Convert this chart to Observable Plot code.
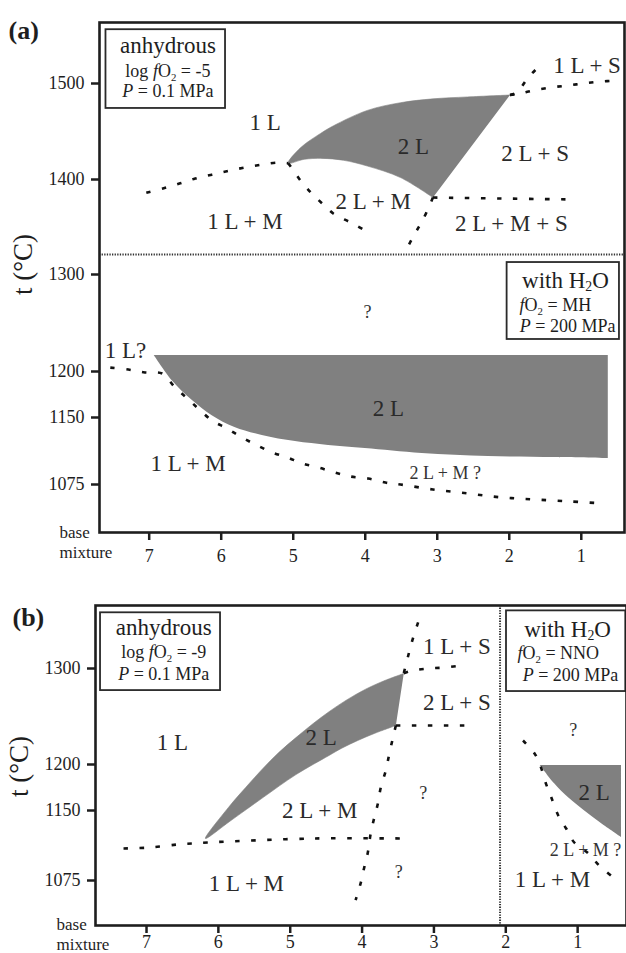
<!DOCTYPE html>
<html><head><meta charset="utf-8">
<script src="https://cdn.jsdelivr.net/npm/d3@7"></script>
<script src="https://cdn.jsdelivr.net/npm/@observablehq/plot@0.6"></script>
<style>
html,body{margin:0;padding:0;background:#fff;}
#chart{width:626px;}
#chart svg{display:block;}
</style></head><body><div id="chart"></div>
<script>
// ================= DATA =================
const xTicks = [7, 6, 5, 4, 3, 2, 1];
const aYTicks = [1075, 1150, 1200, 1300, 1400, 1500];
const bYTicks = [1075, 1150, 1200, 1300];
const aXDomain = [7.69, 0.40];
const bXDomain = [7.71, 0.32];
// temperature break points of the (non-uniform) temperature axis
const aYBreaks = [1021, 1075, 1150, 1200, 1300, 1400, 1500, 1563.5];
const bYBreaks = [1026.8, 1075, 1150, 1200, 1300, 1365.6];
const aSeparatorT = [1321];
const bSeparatorX = [2.08];
const axisTitle = ["t (°C)"];
const aAxisTitleT = [1310.5];
const bAxisTitleT = [1197.8];
const baseLabel = ["base\nmixture"];

// ---- panel (a), anhydrous ----
const aAnhLiquidus = [[7.04,1386],[6.81,1390.5],[6.57,1396],[6.36,1401],[6.13,1405],[5.90,1409],[5.67,1412.5],[5.43,1415.6],[5.21,1417.7],[5.07,1417]];
const aAnhTipDown = [[5.07,1417],[5.04,1414],[4.90,1399],[4.74,1385],[4.60,1375],[4.44,1364],[4.21,1355],[4.04,1348]];
const aAnhEutecticDown = [[3.06,1381],[3.19,1359],[3.31,1343],[3.44,1325]];
const aAnhSolidusFlat = [[3.06,1381],[2.10,1380],[1.15,1379]];
const aAnhVertexUp = [[1.99,1488],[1.89,1491],[1.74,1506],[1.57,1519]];
const aAnhVertexRight = [[1.99,1488],[1.85,1489.6],[1.67,1492.7],[1.43,1495.8],[1.19,1497.9],[0.97,1500],[0.74,1502],[0.50,1503]];
const aAnh2LUpper = [[1.99,1488],[2.58,1486],[3.06,1484],[3.51,1480],[3.97,1472],[4.44,1456],[4.62,1448],[4.90,1433],[5.07,1417]];
const aAnh2LLower = [[5.07,1417],[4.85,1421],[4.60,1422],[4.30,1420],[3.97,1414],[3.51,1402],[3.06,1381]];
// ---- panel (a), with H2O ----
const aH2OLiquidus = [[7.54,1204],[7.29,1202],[7.06,1199],[6.82,1197.8],[6.64,1182.6],[6.47,1170.7],[6.32,1159.8],[6.13,1146.7],[5.92,1137.7],[5.71,1127.6],[5.50,1118.7],[5.29,1110.8],[5.08,1105.2],[4.875,1098.5],[4.65,1094],[4.42,1088.4],[4.21,1084],[3.96,1081.7],[3.72,1077.2],[3.51,1075],[3.06,1069.4],[2.58,1065],[2.125,1060.6],[1.67,1058.3],[1.19,1056.1],[0.74,1053.9]];
const aH2O2LBottom = [[6.93,1216.5],[6.68,1190],[6.40,1168.5],[6.125,1152],[5.81,1138.8],[5.43,1129.9],[4.97,1123],[4.51,1118.7],[4.0,1115.3],[3.21,1109.7],[2.29,1106.4],[1.36,1105.2],[0.625,1104.1]];
const aH2O2LTop = 1216.5;

const aLabels = [
  {text: "1 L", x: 5.39, t: 1459.4}, {text: "2 L", x: 3.33, t: 1434.4},
  {text: "2 L + S", x: 1.64, t: 1427}, {text: "1 L + S", x: 0.92, t: 1518.75},
  {text: "1 L + M", x: 5.67, t: 1355.8}, {text: "2 L + M", x: 3.89, t: 1376.8},
  {text: "2 L + M + S", x: 1.97, t: 1353.7}, {text: "1 L?", x: 7.33, t: 1221.6},
  {text: "2 L", x: 3.68, t: 1159.8}, {text: "1 L + M", x: 6.46, t: 1098.5}
];
const aMinorLabels = [
  {text: "?", x: 3.97, t: 1260.8}, {text: "2 L + M ?", x: 2.89, t: 1087.3}
];
const aBoxes = [
  {x1: 7.60, x2: 5.94, t1: 1474, t2: 1556},
  {x1: 2.03, x2: 0.47, t1: 1233, t2: 1312.6}
];
const aBoxTitles = [
  {text: "anhydrous", x: 6.74, t: 1539.6},
  {text: "with H_2_O", x: 1.22, t: 1294}
];
const aBoxLines = [
  {text: "log *f*O_2_ = -5", x: 6.74, t: 1512.5},
  {text: "*P* = 0.1 MPa", x: 6.74, t: 1491.7},
  {text: "*f*O_2_ = MH", x: 1.36, t: 1268},
  {text: "*P* = 200 MPa", x: 1.19, t: 1246.4}
];

// ---- panel (b), anhydrous ----
const bLiquidusFlat = [[7.32,1109.3],[6.94,1110.4],[6.57,1113.6],[6.34,1114.7],[6.15,1115.7],[5.86,1116.8],[4.67,1120],[3.36,1120]];
const bSteepUpper = [[3.22,1348],[3.29,1332],[3.35,1315.6],[3.42,1295]];
const bSteepLower = [[3.53,1240.6],[3.57,1228],[3.62,1211.5],[3.67,1193.5],[3.74,1175],[3.78,1157.6],[3.83,1142.5],[3.88,1125.4],[3.92,1105],[3.97,1089],[4.02,1072],[4.09,1054]];
const bVertexRight = [[3.42,1295],[3.29,1298],[3.08,1300],[2.86,1301],[2.62,1303]];
const bLowerVertexRight = [[3.53,1240.6],[2.55,1240.6]];
const b2LUpper = [[3.42,1294.8],[3.70,1287],[3.95,1278.5],[4.22,1267],[4.46,1255],[4.68,1242.7],[4.92,1228],[5.16,1212.5],[5.38,1195.7],[5.62,1175],[5.86,1153.3],[6.18,1120]];
const b2LLower = [[6.18,1120],[5.83,1139],[5.38,1164],[4.92,1189],[4.46,1209.4],[4.29,1216.7],[4.06,1225],[3.83,1232.3],[3.53,1240.6]];
// ---- panel (b), with H2O ----
const bH2OLiquidus = [[1.76,1225],[1.60,1211.5],[1.52,1199],[1.44,1179],[1.37,1165],[1.27,1144.7],[1.16,1130.7],[1.05,1116],[0.85,1104],[0.70,1091],[0.50,1078]];
const bH2O2LBottom = [[1.52,1199],[1.32,1179],[1.13,1164],[0.91,1150],[0.67,1136],[0.39,1121]];
const bH2O2LTop = 1199;

const bLabels = [
  {text: "1 L", x: 6.64, t: 1223}, {text: "2 L", x: 4.57, t: 1228},
  {text: "2 L + M", x: 4.59, t: 1150}, {text: "1 L + M", x: 5.61, t: 1071.8},
  {text: "1 L + S", x: 2.68, t: 1323}, {text: "2 L + S", x: 2.68, t: 1264.6},
  {text: "2 L", x: 0.77, t: 1169.6}, {text: "1 L + M", x: 1.35, t: 1076}
];
const bMinorLabels = [
  {text: "?", x: 3.15, t: 1168.5}, {text: "?", x: 3.49, t: 1083.6},
  {text: "?", x: 1.06, t: 1235.4}, {text: "2 L + M ?", x: 0.89, t: 1107}
];
const bBoxes = [
  {x1: 7.64, x2: 5.97, t1: 1277, t2: 1358},
  {x1: 1.99, x2: 0.33, t1: 1276, t2: 1360}
];
const bBoxTitles = [
  {text: "anhydrous", x: 6.76, t: 1342.7},
  {text: "with H_2_O", x: 1.14, t: 1340.6}
];
const bBoxLines = [
  {text: "log *f*O_2_ = -9", x: 6.76, t: 1316.7},
  {text: "*P* = 0.1 MPa", x: 6.76, t: 1293.75},
  {text: "*f*O_2_ = NNO", x: 1.27, t: 1315.5},
  {text: "*P* = 200 MPa", x: 1.10, t: 1292.7}
];

// ================= RENDER =================
const FONT = "'Liberation Serif', 'Times New Roman', serif";
const GRAY = "#808080";
const INK = "#1e1e1e";

function richify(svg) {
  svg.querySelectorAll("text").forEach((t) => {
    if (t.querySelector("tspan")) return;
    const s = t.textContent;
    if (!/[*_]/.test(s)) return;
    t.textContent = "";
    const parts = s.split(/(\*[^*]+\*|_[^_]+_)/).filter(Boolean);
    let shifted = false;
    for (const p of parts) {
      const ts = document.createElementNS("http://www.w3.org/2000/svg", "tspan");
      if (p.startsWith("*")) {
        ts.textContent = p.slice(1, -1);
        ts.setAttribute("font-style", "italic");
        if (shifted) { ts.setAttribute("dy", "-3.5"); shifted = false; }
      } else if (p.startsWith("_")) {
        ts.textContent = p.slice(1, -1);
        ts.setAttribute("font-size", "0.6em");
        ts.setAttribute("dy", "3.5");
        shifted = true;
      } else {
        ts.textContent = p;
        if (shifted) { ts.setAttribute("dy", "-3.5"); shifted = false; }
      }
      t.appendChild(ts);
    }
  });
}

function panel(cfg) {
  // piecewise-linear temperature axis: breaks -> axis units
  const warp = d3.scaleLinear().domain(cfg.breaks).range(cfg.axisUnits);
  const Y = (d) => warp(d.t);
  const rows = (pts) => pts.map(([x, t]) => ({x, t}));
  const curves = (list) => list.flatMap((pts, id) => pts.map(([x, t]) => ({id, x, t})));
  const top = cfg.axisUnits[cfg.axisUnits.length - 1];
  const svg = Plot.plot({
    width: 626, height: cfg.height,
    marginTop: cfg.mt, marginBottom: cfg.mb, marginLeft: cfg.ml, marginRight: cfg.mr,
    style: {fontFamily: FONT, fontSize: "18px", color: INK, background: "white", overflow: "visible"},
    x: {domain: cfg.xDomain, axis: null},
    y: {domain: [0, top], axis: null},
    marks: [
      Plot.areaY(rows(cfg.area), {x: "x", y1: Y, y2: () => warp(cfg.areaTop), fill: GRAY, curve: "catmull-rom"}),
      Plot.line(rows(cfg.poly), {x: "x", y: Y, fill: GRAY, stroke: GRAY, strokeWidth: 0.6, curve: "catmull-rom"}),
      Plot.line(curves(cfg.dotted), {x: "x", y: Y, z: "id", stroke: "#111", strokeWidth: 2.6, strokeDasharray: "4.5,11.5", strokeLinecap: "butt", curve: "catmull-rom"}),
      cfg.sepY ? Plot.ruleY(cfg.sepY, {y: (d) => warp(d), stroke: "#333", strokeWidth: 2, strokeDasharray: "1.3,1.3"}) : null,
      cfg.sepX ? Plot.ruleX(cfg.sepX, {stroke: "#333", strokeWidth: 2, strokeDasharray: "1.3,1.3"}) : null,
      Plot.rect(cfg.boxes, {x1: "x1", x2: "x2", y1: (d) => warp(d.t1), y2: (d) => warp(d.t2), fill: "white", stroke: "#2a2a2a", strokeWidth: 1.8}),
      Plot.text(cfg.boxTitles, {x: "x", y: Y, text: "text", fontSize: 23, fill: INK}),
      Plot.text(cfg.boxLines, {x: "x", y: Y, text: "text", fontSize: 18, fill: INK}),
      Plot.text(cfg.labels, {x: "x", y: Y, text: "text", fontSize: 23, fill: "#2a2a2a"}),
      Plot.text(cfg.minor, {x: "x", y: Y, text: "text", fontSize: 18, fill: "#333"}),
      Plot.frame({stroke: INK, strokeWidth: 2.6}),
      Plot.axisX(xTicks, {tickSize: 8, tickPadding: cfg.xPad, fontSize: 18, strokeWidth: 2.5, stroke: INK, fill: INK, tickFormat: (d) => String(d), label: null}),
      Plot.axisY(cfg.yTicks.map((t) => warp(t)), {tickSize: 8, tickPadding: 7, fontSize: 18, strokeWidth: 2.5, stroke: INK, fill: INK, tickFormat: (v) => String(Math.round(warp.invert(v))), label: null}),
      Plot.text(axisTitle, {text: (d) => d, y: () => warp(cfg.axisTitleT), frameAnchor: "left", dx: -76, rotate: -90, fontSize: 27, fill: INK, textAnchor: "middle"}),
      Plot.text(baseLabel, {text: (d) => d, frameAnchor: "bottom-left", dx: cfg.baseDx, dy: cfg.baseDy, textAnchor: "start", lineAnchor: "middle", lineHeight: 1.15, fontSize: 17, fill: INK}),
      Plot.text([cfg.tag], {text: (d) => d, frameAnchor: "top-left", dx: cfg.tagDx, dy: cfg.tagDy, textAnchor: "start", lineAnchor: "middle", fontSize: 26, fontWeight: "bold", fill: INK})
    ]
  });
  richify(svg);
  return svg;
}

const chart = document.getElementById("chart");
chart.appendChild(panel({
  height: 570, mt: 22, mb: 38, ml: 99, mr: 2, xPad: 9,
  xDomain: aXDomain, breaks: aYBreaks, axisUnits: [0, 48, 115, 161, 258, 353, 449, 510], yTicks: aYTicks,
  area: aH2O2LBottom, areaTop: aH2O2LTop,
  poly: [...aAnh2LUpper, ...aAnh2LLower.slice(1)],
  dotted: [aAnhLiquidus, aAnhTipDown, aAnhEutecticDown, aAnhSolidusFlat, aAnhVertexUp, aAnhVertexRight, aH2OLiquidus],
  sepY: aSeparatorT,
  boxes: aBoxes, boxTitles: aBoxTitles, boxLines: aBoxLines, labels: aLabels, minor: aMinorLabels,
  axisTitleT: aAxisTitleT[0], baseDx: -40, baseDy: 9, tag: "(a)", tagDx: -91, tagDy: 8
}));
chart.appendChild(panel({
  height: 383, mt: 35, mb: 28, ml: 95, mr: 0, xPad: 2,
  xDomain: bXDomain, breaks: bYBreaks, axisUnits: [0, 45, 115, 161, 257, 320], yTicks: bYTicks,
  area: bH2O2LBottom, areaTop: bH2O2LTop,
  poly: [...b2LUpper, ...b2LLower.slice(1)],
  dotted: [bLiquidusFlat, bSteepUpper, bSteepLower, bVertexRight, bLowerVertexRight, bH2OLiquidus],
  sepX: bSeparatorX,
  boxes: bBoxes, boxTitles: bBoxTitles, boxLines: bBoxLines, labels: bLabels, minor: bMinorLabels,
  axisTitleT: bAxisTitleT[0], baseDx: -39, baseDy: 8, tag: "(b)", tagDx: -83, tagDy: 12
}));
</script></body></html>
